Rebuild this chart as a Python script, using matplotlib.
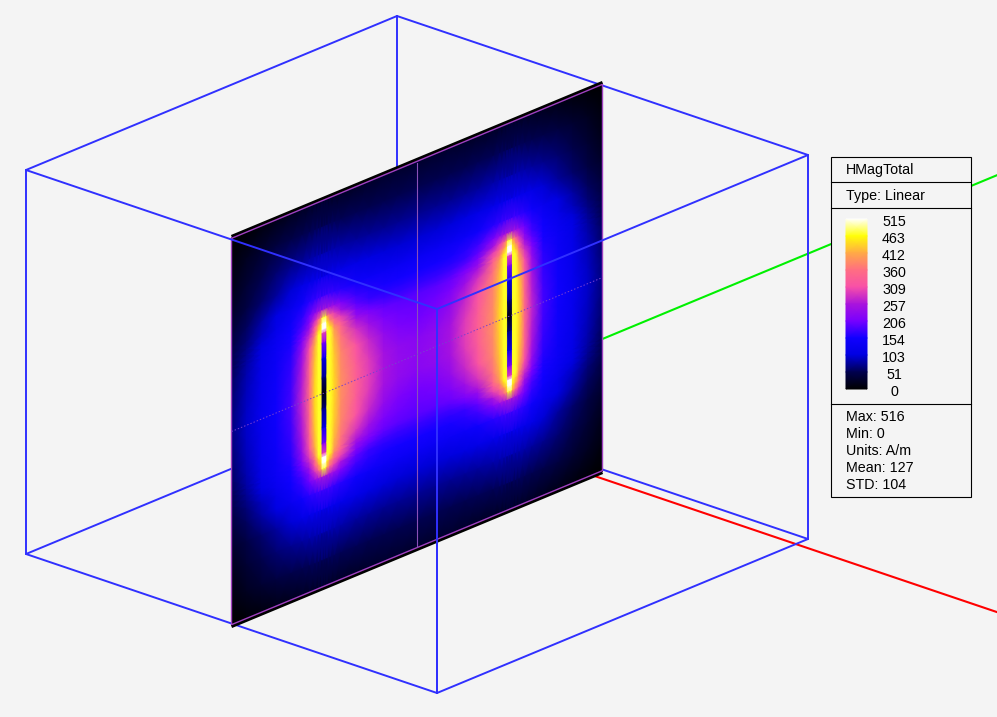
import matplotlib
matplotlib.use('Agg')
import matplotlib.pyplot as plt
import numpy as np
from matplotlib.colors import LinearSegmentedColormap
from matplotlib.patches import Rectangle

# Data
legend_title = 'HMagTotal'
legend_type = 'Type: Linear'
tick_values = [515, 463, 412, 360, 309, 257, 206, 154, 103, 51, 0]
stats = ['Max: 516', 'Min: 0', 'Units: A/m', 'Mean: 127', 'STD: 104']
cmap_colors = ['#000000', '#000050', '#0000e1', '#1000ff', '#7800ff', '#aa14dc',
               '#f850a8', '#ff6e82', '#ffaa46', '#ffff00', '#ffffff']

# field on the plate (A/m), one quadrant
col_pos = [0, .04, .08, .12, .16, .19, .21, .225, .2345, .2425, .2445, .25, .2555, .2575,
           .2655, .277, .295, .336, .37, .41, .45, .5]
row_pos = [0, .07, .14, .2, .25, .285, .305, .32, .335, .345, .37, .41, .46, .5]
field = [
    [0, 6, 10, 16, 20, 24, 26, 26, 26, 26, 26, 26, 26, 26, 26, 26, 26, 26, 28, 30, 30, 30],
    [10, 22, 32, 42, 48, 52, 54, 55, 55, 55, 55, 55, 55, 55, 55, 55, 54, 53, 52, 52, 52, 52],
    [18, 34, 50, 64, 74, 80, 84, 86, 86, 86, 86, 86, 86, 86, 86, 86, 84, 80, 78, 76, 75, 75],
    [28, 44, 62, 80, 100, 112, 118, 120, 122, 122, 122, 122, 122, 122, 122, 120, 118, 112, 106, 102, 100, 100],
    [38, 58, 82, 105, 128, 148, 165, 172, 178, 180, 180, 180, 180, 180, 178, 172, 165, 150, 142, 137, 135, 135],
    [44, 66, 92, 118, 145, 170, 200, 230, 250, 258, 260, 262, 260, 258, 250, 238, 215, 178, 165, 158, 155, 155],
    [48, 72, 100, 128, 152, 180, 220, 280, 340, 400, 470, 470, 470, 400, 340, 295, 255, 195, 175, 168, 165, 165],
    [50, 76, 106, 132, 155, 192, 245, 320, 395, 450, 505, 515, 505, 450, 390, 340, 295, 215, 190, 178, 175, 175],
    [52, 80, 110, 135, 158, 205, 270, 355, 440, 470, 515, 515, 515, 480, 450, 375, 325, 235, 208, 190, 185, 185],
    [54, 82, 112, 137, 160, 215, 285, 380, 470, 470, 300, 300, 300, 470, 470, 400, 345, 255, 220, 198, 192, 190],
    [58, 86, 116, 140, 165, 235, 310, 415, 470, 470, 220, 220, 220, 470, 470, 418, 365, 285, 245, 210, 200, 197],
    [62, 90, 120, 144, 172, 255, 340, 430, 470, 470, 130, 130, 130, 470, 470, 430, 380, 315, 275, 232, 212, 205],
    [66, 94, 124, 148, 178, 265, 350, 438, 470, 470, 70, 70, 70, 470, 470, 435, 385, 330, 290, 250, 230, 222],
    [68, 96, 126, 150, 180, 270, 355, 440, 470, 470, 0, 0, 0, 470, 470, 437, 388, 335, 295, 255, 235, 226],
]

# box corners in model units
box_lo = 0.0
box_hi = 1.0
plate_x = 0.5
axis_z = 0.34


def project(x, y, z):
    # model units to screen pixels
    x, y, z = np.asarray(x, float), np.asarray(y, float), np.asarray(z, float)
    return 26 + 411 * x + 371 * y, 554 + 139 * x - 154 * y - 384 * z


plt.rcParams['font.family'] = ['Liberation Sans', 'DejaVu Sans']
bg = '#f4f4f4'
fig = plt.figure(figsize=(9.97, 7.17), dpi=100, facecolor=bg)
ax = fig.add_axes([0, 0, 1, 1])
ax.axis('off')

cmap = LinearSegmentedColormap.from_list(
    'fields', list(zip(np.array(tick_values[::-1]) / 515, cmap_colors)))

blue = '#3030ff'


def edge(a, b, z=2):
    xs, ys = project(*zip(a, b))
    ax.plot(xs, ys, color=blue, lw=1.4, zorder=z, solid_capstyle='round')


lo, hi = box_lo, box_hi
back_edges = [((lo, lo, lo), (hi, lo, lo)), ((lo, lo, lo), (lo, hi, lo)), ((hi, lo, lo), (hi, hi, lo)),
              ((lo, hi, lo), (hi, hi, lo)), ((lo, lo, lo), (lo, lo, hi)), ((hi, lo, lo), (hi, lo, hi)),
              ((lo, hi, lo), (lo, hi, hi)), ((hi, hi, lo), (hi, hi, hi)), ((lo, lo, hi), (lo, hi, hi)),
              ((lo, hi, hi), (hi, hi, hi))]
front_edges = [((lo, lo, hi), (hi, lo, hi)), ((hi, lo, hi), (hi, hi, hi)), ((hi, lo, lo), (hi, lo, hi))]
for a, b in back_edges:
    edge(a, b)

# axes behind the plate
xs, ys = project([0.5, 2.5], [0.5, 0.5], [axis_z, axis_z])
ax.plot(xs, ys, color='#ff0000', lw=1.5, zorder=1)
xs, ys = project([0.5, 0.5], [0.5, 3.0], [axis_z, axis_z])
ax.plot(xs, ys, color='#00f000', lw=1.5, zorder=1)

# plate, mirrored from the quadrant
f = np.array(field, float)
f = np.vstack([f, f[-2::-1]])
f = np.hstack([f, f[:, -2::-1]])
cols = np.array(col_pos)
rows = np.array(row_pos)
cols = np.concatenate([cols, 1 - cols[-2::-1]])
rows = np.concatenate([rows, 1 - rows[-2::-1]])
U, V = np.meshgrid(cols, rows)
zz = 1.005 - V * 1.01
X, Y = project(np.full(U.shape, plate_x), U, zz)
ax.pcolormesh(X, Y, f, shading='gouraud', cmap=cmap, vmin=0, vmax=515, zorder=3)

# plate outline and centre lines
ox, oy = project([plate_x] * 2, [0, 1], [1.008, 1.008])
ax.plot(ox, oy, color='black', lw=2.2, zorder=4, solid_capstyle='butt')
ox, oy = project([plate_x] * 2, [0, 1], [-.008, -.008])
ax.plot(ox, oy, color='black', lw=2.2, zorder=4, solid_capstyle='butt')
ox, oy = project([plate_x] * 5, [0, 1, 1, 0, 0], [1.003, 1.003, -.003, -.003, 1.003])
ax.plot(ox, oy, color='#a040c0', lw=1.0, zorder=4)
xs, ys = project([plate_x, plate_x], [0.5, 0.5], [0, 1])
ax.plot(xs, ys, color='#8a50b8', lw=0.8, zorder=4)
xs, ys = project([plate_x, plate_x], [0, 1], [0.5, 0.5])
ax.plot(xs, ys, color='#7a40d0', lw=0.7, ls=(0, (1.5, 2)), zorder=4)

for a, b in front_edges:
    edge(a, b, 5)

# legend panel
ax.add_patch(Rectangle((831, 157), 140, 340, fc=bg, ec='black', lw=0.8, zorder=6))
for yy in [182, 208, 404]:
    ax.plot([831, 971], [yy, yy], color='black', lw=0.8, zorder=7)
ax.text(846, 174, legend_title, fontsize=10.3, va='baseline', ha='left', zorder=7)
ax.text(846, 200, legend_type, fontsize=10.3, va='baseline', ha='left', zorder=7)
bar = np.array(tick_values, float)[:, None]
ax.pcolormesh([846, 867], np.linspace(219, 389, len(tick_values)), np.hstack([bar, bar]),
              shading='gouraud', cmap=cmap, vmin=0, vmax=515, zorder=7)
for i, val in enumerate(tick_values):
    ax.text(894, 226 + 17 * i, str(val), fontsize=10.3, va='baseline', ha='center', zorder=7)
for i, s in enumerate(stats):
    ax.text(846, 421 + 17 * i, s, fontsize=10.3, va='baseline', ha='left', zorder=7)
ax.set_xlim(0, 997)
ax.set_ylim(717, 0)

plt.savefig('out.png', dpi=100, facecolor=bg)
